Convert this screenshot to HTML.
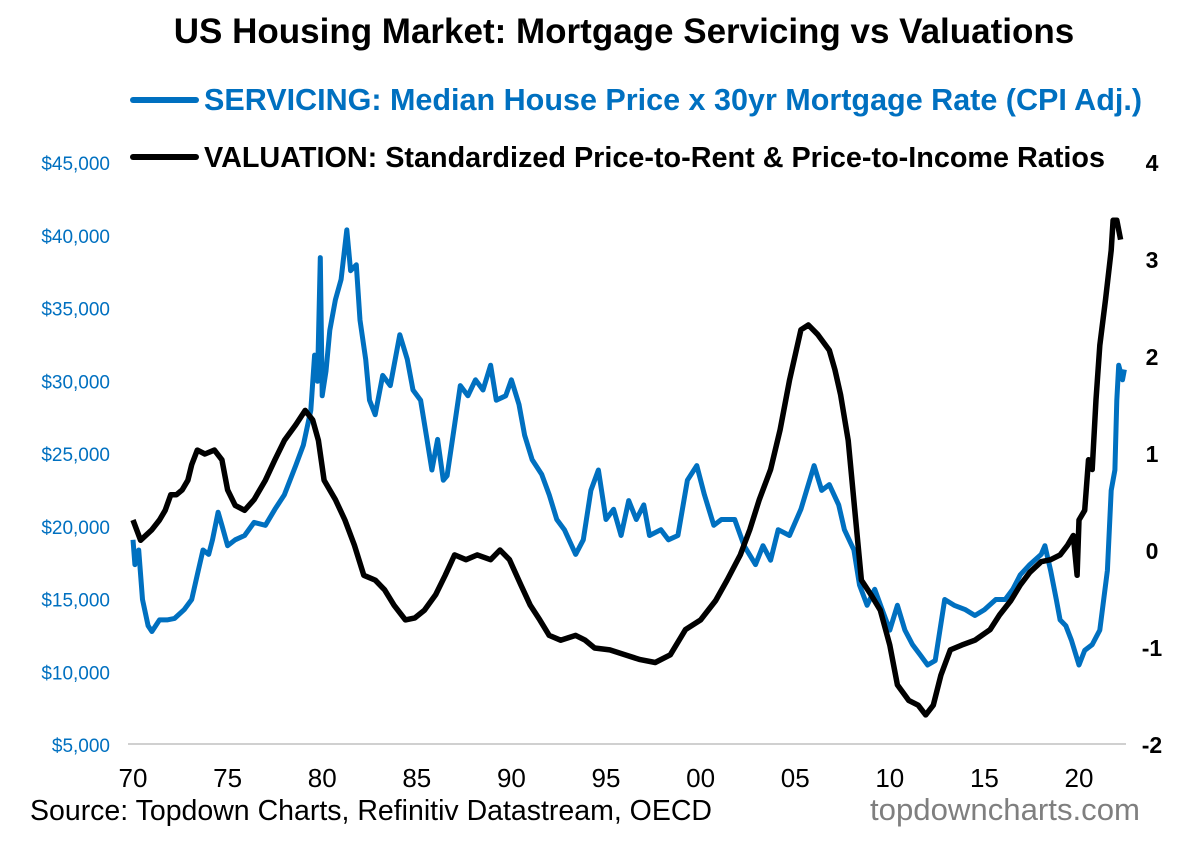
<!DOCTYPE html>
<html><head><meta charset="utf-8"><style>
body{margin:0;background:#fff;font-family:"Liberation Sans",Arial,sans-serif}
svg text{font-family:"Liberation Sans",Arial,sans-serif}
</style></head><body>
<svg id="c" width="1200" height="841" viewBox="0 0 1200 841" xmlns="http://www.w3.org/2000/svg">
<text x="624" y="43" text-anchor="middle" font-size="35" font-weight="bold" fill="#000">US Housing Market: Mortgage Servicing vs Valuations</text>
<g><line x1="133" y1="100" x2="196" y2="100" stroke="#0070c0" stroke-width="6" stroke-linecap="round"/><text x="204" y="110" font-size="30.5" font-weight="bold" fill="#0070c0" textLength="938" lengthAdjust="spacingAndGlyphs">SERVICING: Median House Price x 30yr Mortgage Rate (CPI Adj.)</text></g>
<g><line x1="133" y1="157" x2="196" y2="157" stroke="#000" stroke-width="6" stroke-linecap="round"/><text x="204" y="167" font-size="28.8" font-weight="bold" fill="#000" textLength="901" lengthAdjust="spacingAndGlyphs">VALUATION: Standardized Price-to-Rent &amp; Price-to-Income Ratios</text></g>
<line x1="128" y1="744" x2="1126" y2="744" stroke="#d0d0d0" stroke-width="2"/>
<g id="lax"></g><g id="rax"></g><g id="xax"></g>
<path id="blue" fill="none" stroke="#0070c0" stroke-width="5" stroke-linejoin="round"/>
<path id="black" fill="none" stroke="#000" stroke-width="5.5" stroke-linejoin="round"/>
<text x="30" y="820" font-size="28.5" fill="#000" textLength="682" lengthAdjust="spacingAndGlyphs">Source: Topdown Charts, Refinitiv Datastream, OECD</text>
<text x="870" y="820" font-size="31" fill="#7f7f7f" textLength="270" lengthAdjust="spacingAndGlyphs">topdowncharts.com</text>
</svg>
<script>
const blueYears=[1970,1970.1,1970.3,1970.5,1970.8,1971,1971.4,1971.8,1972.2,1972.7,1973.1,1973.4,1973.7,1974,1974.2,1974.5,1974.7,1975,1975.4,1975.9,1976.4,1977,1977.5,1978,1978.6,1979,1979.4,1979.6,1979.75,1979.9,1980,1980.2,1980.4,1980.7,1981,1981.3,1981.5,1981.8,1982,1982.3,1982.5,1982.8,1983.2,1983.6,1984.1,1984.5,1984.8,1985.2,1985.5,1985.8,1986.1,1986.4,1986.6,1987,1987.3,1987.7,1988.1,1988.5,1988.9,1989.2,1989.7,1990,1990.4,1990.7,1991.1,1991.6,1992,1992.4,1992.8,1993.4,1993.8,1994.2,1994.6,1995,1995.4,1995.8,1996.2,1996.6,1997,1997.3,1997.9,1998.3,1998.8,1999.3,1999.8,2000.2,2000.7,2001.1,2001.8,2002.3,2002.9,2003.3,2003.7,2004.1,2004.7,2005.3,2005.6,2006,2006.4,2006.8,2007.3,2007.6,2008.1,2008.4,2008.8,2009.2,2009.6,2010,2010.4,2010.8,2011.2,2011.6,2012,2012.4,2012.9,2013.4,2014,2014.5,2015,2015.6,2016.1,2016.5,2016.9,2017.4,2018,2018.2,2018.5,2018.8,2019,2019.3,2019.6,2020,2020.3,2020.7,2021.1,2021.5,2021.7,2021.9,2022,2022.1,2022.3,2022.4];
const blueValues=[19100,17400,18400,15000,13200,12800,13600,13600,13700,14300,15000,16700,18400,18100,19100,21000,20100,18700,19100,19400,20300,20100,21200,22200,24200,25600,28000,31800,30000,38500,29000,30700,33500,35600,37000,40400,37600,38000,34200,31500,28700,27700,30400,29700,33200,31500,29400,28700,26300,23900,26000,23200,23500,27000,29700,29000,30100,29400,31100,28700,29000,30100,28400,26300,24600,23600,22200,20500,19800,18100,19100,22500,23900,20500,21200,19400,21800,20500,21500,19400,19800,19100,19400,23200,24200,22200,20100,20500,20500,18700,17400,18700,17700,19800,19400,21200,22500,24200,22500,22900,21500,19800,18400,16000,14600,15700,14300,12900,14600,12900,11900,11200,10500,10800,15000,14600,14300,13900,14300,15000,15000,15700,16700,17400,18100,18700,17000,15000,13600,13200,12200,10500,11500,11900,12900,17000,22500,23900,28700,31100,30100,30800];
const blackYears=[1970,1970.4,1971,1971.4,1971.7,1972,1972.3,1972.6,1972.9,1973.1,1973.4,1973.8,1974.3,1974.7,1975,1975.4,1975.9,1976.4,1977,1977.5,1978,1978.6,1979.1,1979.5,1979.8,1980.1,1980.7,1981.2,1981.7,1982.2,1982.8,1983.3,1983.8,1984.4,1984.9,1985.4,1986,1986.5,1987,1987.6,1988.2,1988.9,1989.4,1989.9,1990.5,1991,1991.5,1992,1992.6,1993.4,1993.9,1994.4,1995.2,1996,1996.8,1997.6,1998.4,1999.2,2000,2000.8,2001.4,2002.1,2002.6,2003.1,2003.7,2004.2,2004.7,2005.3,2005.7,2006.2,2006.8,2007.1,2007.4,2007.8,2008.2,2008.5,2009,2009.5,2010,2010.4,2011,2011.5,2011.9,2012.3,2012.7,2013.2,2013.8,2014.5,2015.3,2015.8,2016.4,2016.9,2017.4,2018,2018.5,2019,2019.4,2019.7,2019.9,2020,2020.3,2020.5,2020.7,2020.9,2021.1,2021.4,2021.7,2021.8,2022,2022.2];
const blackValues=[0.32,0.11,0.22,0.32,0.42,0.58,0.58,0.63,0.73,0.89,1.04,1.0,1.04,0.94,0.63,0.47,0.42,0.53,0.73,0.94,1.14,1.30,1.45,1.35,1.14,0.73,0.53,0.32,0.06,-0.25,-0.30,-0.40,-0.56,-0.71,-0.69,-0.61,-0.45,-0.25,-0.04,-0.09,-0.04,-0.09,0.01,-0.09,-0.35,-0.56,-0.71,-0.87,-0.92,-0.87,-0.92,-1.0,-1.02,-1.07,-1.12,-1.15,-1.07,-0.81,-0.71,-0.51,-0.30,-0.04,0.22,0.53,0.84,1.25,1.76,2.28,2.33,2.23,2.07,1.87,1.61,1.14,0.32,-0.30,-0.45,-0.61,-0.97,-1.38,-1.54,-1.59,-1.69,-1.59,-1.28,-1.02,-0.97,-0.92,-0.81,-0.66,-0.51,-0.35,-0.22,-0.11,-0.09,-0.04,0.06,0.16,-0.25,0.32,0.42,0.94,0.84,1.56,2.12,2.59,3.10,3.41,3.41,3.21];
const leftTicks=[5000,10000,15000,20000,25000,30000,35000,40000,45000];
const leftTickLabels=["$5,000","$10,000","$15,000","$20,000","$25,000","$30,000","$35,000","$40,000","$45,000"];
const rightTicks=[-2,-1,0,1,2,3,4];
const xTicks=[1970,1975,1980,1985,1990,1995,2000,2005,2010,2015,2020];
const xTickLabels=["70","75","80","85","90","95","00","05","10","15","20"];

const xs=y=>133+(y-1970)*(1079-133)/50;
const yl=v=>745-(v-5000)*(582/40000);
const yr=v=>551-v*97;
const NS='http://www.w3.org/2000/svg';
function txt(g,x,y,s,attrs){const t=document.createElementNS(NS,'text');t.setAttribute('x',x);t.setAttribute('y',y);for(const k in attrs)t.setAttribute(k,attrs[k]);t.textContent=s;g.appendChild(t);return t;}
const lax=document.getElementById('lax'),rax=document.getElementById('rax'),xax=document.getElementById('xax');
leftTicks.forEach((v,i)=>{const t=txt(lax,110,yl(v)+7,leftTickLabels[i],{'text-anchor':'end','font-size':'19','fill':'#0070c0'});

});
rightTicks.forEach(v=>{const t=txt(rax,1152,yr(v)+8,String(v),{'text-anchor':'middle','font-size':'23','font-weight':'bold','fill':'#000'});

});
xTicks.forEach((v,i)=>{const t=txt(xax,xs(v),787,xTickLabels[i],{'text-anchor':'middle','font-size':'26','fill':'#000'});

});
document.getElementById('blue').setAttribute('d',blueYears.map((y,i)=>(i?'L':'M')+xs(y).toFixed(1)+','+yl(blueValues[i]).toFixed(1)).join(''));
document.getElementById('black').setAttribute('d',blackYears.map((y,i)=>(i?'L':'M')+xs(y).toFixed(1)+','+yr(blackValues[i]).toFixed(1)).join(''));
</script>
</body></html>
